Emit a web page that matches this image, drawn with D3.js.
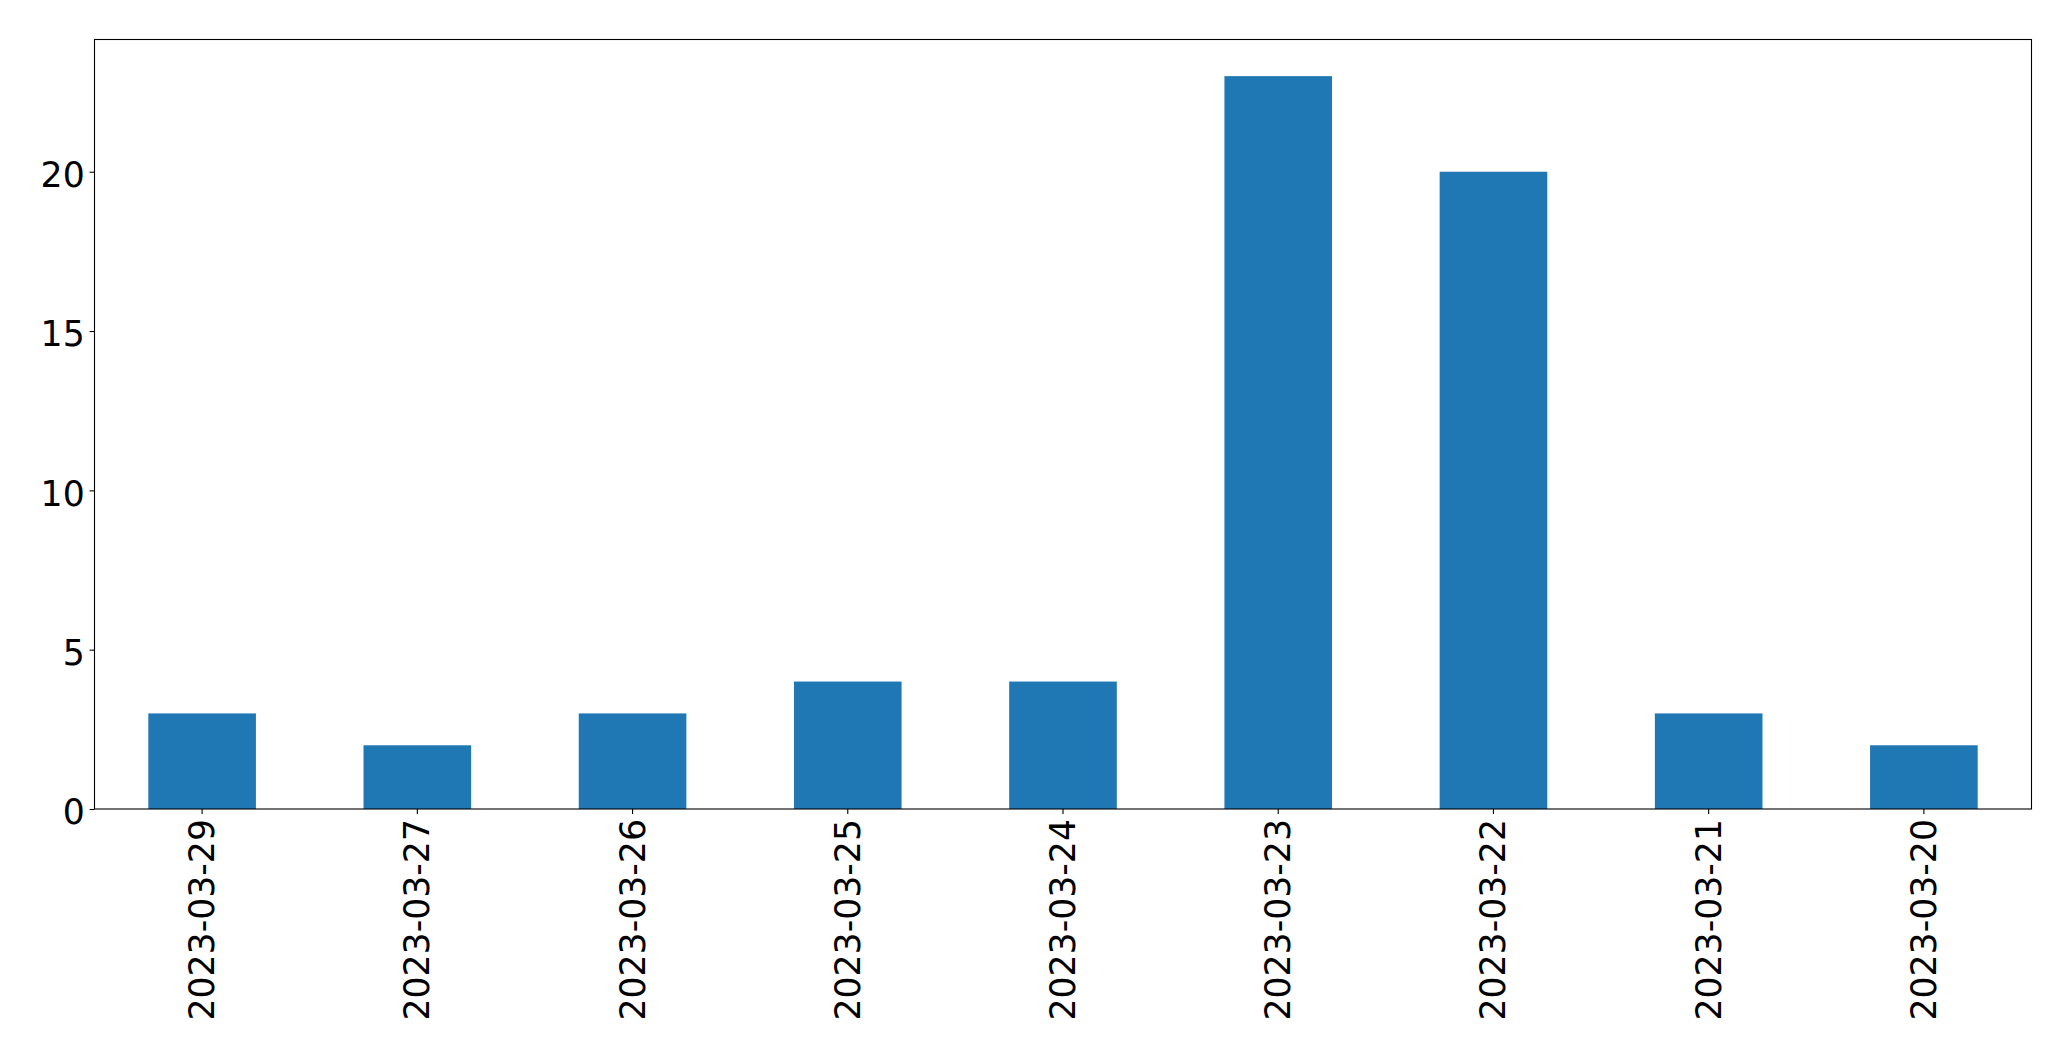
<!DOCTYPE html>
<html>
<head>
<meta charset="utf-8">
<script src="https://cdn.jsdelivr.net/npm/d3@7"></script>
<style>
  html, body { margin: 0; padding: 0; background: #fff; }
  svg { display: block; }
</style>
</head>
<body>
<svg id="chart" width="2071" height="1061"></svg>
<script>
const categories = ["2023-03-29", "2023-03-27", "2023-03-26", "2023-03-25", "2023-03-24", "2023-03-23", "2023-03-22", "2023-03-21", "2023-03-20"];
const values = [3, 2, 3, 4, 4, 23, 20, 3, 2];
const yTicks = [0, 5, 10, 15, 20];

const W = 2071, H = 1061;
const m = { left: 94.5, right: W - 2031.5, top: 39.5, bottom: H - 809 };
const svg = d3.select("#chart");
const plotW = W - m.left - m.right, plotH = H - m.top - m.bottom;
const g = svg.append("g").attr("transform", `translate(${m.left},${m.top})`);

const yMax = d3.max(values) * 1.05;
const x = d3.scaleBand().domain(categories).range([0, plotW]).paddingInner(0.5).paddingOuter(0.25);
const y = d3.scaleLinear().domain([0, yMax]).range([plotH, 0]);

g.selectAll("rect.bar").data(values).join("rect")
  .attr("class", "bar")
  .attr("x", (d, i) => x(categories[i]))
  .attr("width", x.bandwidth())
  .attr("y", d => y(d))
  .attr("height", d => y(0) - y(d))
  .attr("fill", "#1f77b4");

const font = "'DejaVu Sans', sans-serif";
const fs = 34.7;

// Y axis
const yAxis = g.append("g").call(d3.axisLeft(y).tickValues(yTicks).tickSize(4.9).tickPadding(4.9).tickFormat(d3.format("d")));
yAxis.select(".domain").remove();
yAxis.selectAll(".tick line").attr("stroke", "#000").attr("stroke-width", 1.1);
yAxis.selectAll(".tick text").attr("font-family", font).attr("font-size", fs).attr("fill", "#000").attr("dy", "0.43em");

// X axis
const xAxis = g.append("g").attr("transform", `translate(0,${plotH})`)
  .call(d3.axisBottom(x).tickSize(4.9).tickPadding(0));
xAxis.select(".domain").remove();
xAxis.selectAll(".tick line").attr("stroke", "#000").attr("stroke-width", 1.1);
xAxis.selectAll(".tick text")
  .attr("font-family", font).attr("font-size", fs).attr("fill", "#000")
  .attr("text-anchor", "end")
  .attr("dy", null)
  .attr("dominant-baseline", "central")
  .attr("transform", "translate(0,10) rotate(-90)")
  .attr("x", 0).attr("y", 0);

// Frame
g.append("rect").attr("x", 0).attr("y", 0).attr("width", plotW).attr("height", plotH)
  .attr("fill", "none").attr("stroke", "#000").attr("stroke-width", 1.1);
</script>
</body>
</html>
